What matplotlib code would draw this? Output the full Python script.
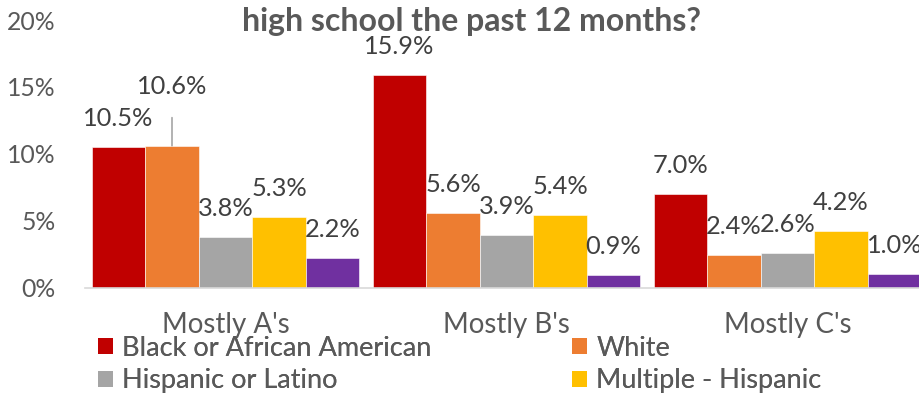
import matplotlib
matplotlib.use("Agg")
import matplotlib.pyplot as plt
from matplotlib.patches import Patch
import numpy as np

plt.rcParams['font.family'] = ['Lato', 'DejaVu Sans']

categories = ["Mostly A's", "Mostly B's", "Mostly C's"]
series_names = ["Black or African American", "White", "Hispanic or Latino",
                "Multiple - Hispanic", "Multiple - Non-Hispanic"]
black = [10.5, 15.9, 7.0]
white = [10.6, 5.6, 2.4]
hispanic = [3.8, 3.9, 2.6]
multi_hisp = [5.3, 5.4, 4.2]
multi_non = [2.2, 0.9, 1.0]
y_ticks = [0, 5, 10, 15, 20]
title = "high school the past 12 months?"

values = [black, white, hispanic, multi_hisp, multi_non]
colors = ["#C00000", "#ED7D31", "#A5A5A5", "#FFC000", "#7030A0"]

W, H = 920, 398
fig = plt.figure(figsize=(W / 100, H / 100), dpi=100)
ax = fig.add_axes([85 / W, 110.5 / H, 843 / W, 267.5 / H])

x = np.arange(len(categories))
bw = 0.1904
label_color = "#404040"
axis_color = "#595959"

for i, (vals, col) in enumerate(zip(values, colors)):
    pos = x + (i - 2) * bw
    ax.bar(pos, vals, width=bw, color=col, edgecolor="white", linewidth=0.4,
           zorder=2)
    for j, (px, v) in enumerate(zip(pos, vals)):
        if i == 1 and j == 0:
            # label lifted clear of its neighbour, with a leader line
            ax.annotate(f"{v:.1f}%", xy=(px, v), xytext=(0, 42.5),
                        textcoords="offset points", ha="center", va="center",
                        fontsize=18.3, color=label_color,
                        arrowprops=dict(arrowstyle="-", color="#A6A6A6",
                                        lw=1.2, shrinkA=12, shrinkB=0))
        else:
            ax.annotate(f"{v:.1f}%", xy=(px, v), xytext=(0, 20.5),
                        textcoords="offset points", ha="center", va="center",
                        fontsize=18.3, color=label_color)

ax.set_xlim(-0.5, 2.5)
ax.set_ylim(0, 20)
ax.set_yticks(y_ticks)
ax.set_yticklabels([f"{t}%" for t in y_ticks], fontsize=17.8, color=axis_color)
ax.set_xticks(x)
ax.set_xticklabels(categories, fontsize=20, color=axis_color)
ax.tick_params(axis="both", length=0)
ax.tick_params(axis="y", pad=21)
ax.tick_params(axis="x", pad=18)
for s in ["top", "right", "left"]:
    ax.spines[s].set_visible(False)
ax.spines["bottom"].set_color("#D9D9D9")
ax.spines["bottom"].set_linewidth(1.2)

fig.text(472 / W, 1 - 22 / H, title, ha="center", va="center",
         fontsize=23, fontweight="bold", color=axis_color)

# two legend columns, each anchored on its own
legend_cols = [[0, 2], [1, 3]]
col_x = [98, 572]
for cx, idxs in zip(col_x, legend_cols):
    handles = [Patch(facecolor=colors[k], edgecolor="none") for k in idxs]
    labels = [series_names[k] for k in idxs]
    leg = fig.legend(handles, labels, ncol=1, loc="center left",
                     bbox_to_anchor=(cx / W, 1 - 364.5 / H), frameon=False,
                     fontsize=19.5, labelcolor=axis_color, handlelength=0.55,
                     handleheight=0.55, handletextpad=0.35,
                     labelspacing=0.28, borderpad=0, borderaxespad=0)
    fig.add_artist(leg)

fig.savefig("out.png", dpi=100)
